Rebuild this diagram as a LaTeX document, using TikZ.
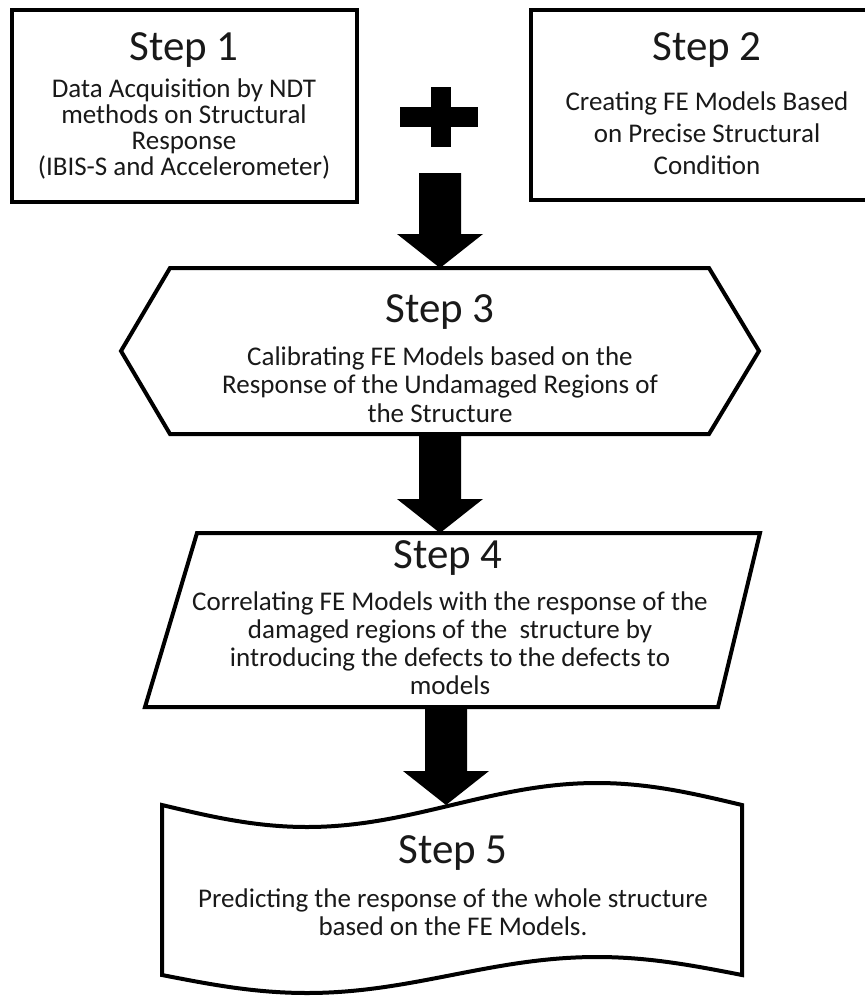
\documentclass[tikz,border=0pt]{standalone}
\usepackage{fontspec}
\setmainfont{Carlito}
\usepackage{tikz}
\usetikzlibrary{calc}

\begin{document}
\begin{tikzpicture}[
    x = 1pt, y = -1pt, % one unit per pixel, y runs down
    line width = 4pt, % outline thickness
    line join = miter
]
\tikzstyle{title}=[
    font = \fontsize{43}{43}\selectfont,
    text = black!90,
    inner sep = 0pt,
    anchor = base
]
\tikzstyle{body}=[
    font = \fontsize{27}{#1}\selectfont,
    text = black!90,
    align = center,
    inner sep = 0pt,
    anchor = base % base of the last line
]
\tikzstyle{bigarrow}=[
    fill = black,
    to path = {($(\tikztostart)+(-21,0)$) -- ($(\tikztotarget)+(-21,-34)$)
        -- ($(\tikztotarget)+(-43,-34)$) -- (\tikztotarget)
        -- ($(\tikztotarget)+(43,-34)$) -- ($(\tikztotarget)+(21,-34)$)
        -- ($(\tikztostart)+(21,0)$) -- cycle}
]

\useasboundingbox (0,0) rectangle (865,997);

% step 1 and step 2
\draw (12,10) rectangle (357,202);
\draw (531,10) rectangle (885,200);

\node[title] (t1) at (184,60) {Step 1};
\node[body=26] (b1) at (184,175) {Data Acquisition by NDT\\ methods on Structural\\ Response\\ (IBIS-S and Accelerometer)};

\node[title] (t2) at (707,60) {Step 2};
\node[body=32] (b2) at (707,174) {Creating FE Models Based\\ on Precise Structural\\ Condition};

% plus sign
\fill (400,107) rectangle (478,127);
\fill (431,87) rectangle (451,147);

% step 3
\draw (170,268) -- (709,268) -- (759,351) -- (709,434) -- (170,434) -- (121,351) -- cycle;
\coordinate (s3top) at (440,268);
\coordinate (s3bot) at (440,434);
\node[title] (t3) at (440,322) {Step 3};
\node[body=28.5] (b3) at (440,422) {Calibrating FE Models based on the\\ Response of the Undamaged Regions of\\ the Structure};

% step 4
\draw (197,533) -- (760,533) -- (718,707) -- (145,707) -- cycle;
\coordinate (s4top) at (440,533);
\coordinate (s4bot) at (446,707);
\node[title] (t4) at (448,568) {Step 4};
\node[body=28] (b4) at (450,694) {Correlating FE Models with the response of the\\ damaged regions of the\ \ structure by\\ introducing the defects to the defects to\\ models};

% step 5
\draw (162,805) sin (307,827) cos (452,805) sin (597,783) cos (742,805)
    -- (742,975) sin (597,957) cos (452,975) sin (307,993) cos (162,975) -- cycle;
\coordinate (s5top) at (446,805);
\node[title] (t5) at (453,863) {Step 5};
\node[body=28] (b5) at (453,935) {Predicting the response of the whole structure\\ based on the FE Models.};

% block arrows
\coordinate (a1) at (440,173);
\path[bigarrow] (a1) to (s3top);
\path[bigarrow] (s3bot) to (s4top);
\path[bigarrow] (s4bot) to (s5top);

\end{tikzpicture}
\end{document}
